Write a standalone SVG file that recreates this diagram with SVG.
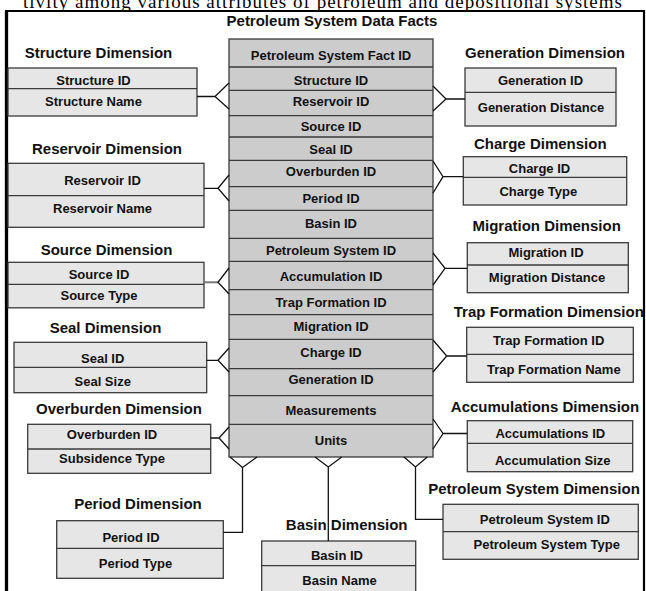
<svg xmlns="http://www.w3.org/2000/svg" width="646" height="591" viewBox="0 0 646 591">
<style>
.cap{font-family:"Liberation Serif","Times New Roman",serif;font-size:19px;fill:#000}
.t{font-family:"Liberation Sans",Arial,sans-serif;font-size:15px;font-weight:bold;fill:#111;text-anchor:middle}
.r{font-family:"Liberation Sans",Arial,sans-serif;font-size:13px;font-weight:bold;fill:#111;text-anchor:middle}
.dim{fill:#e6e6e6;stroke:#3a3a3a;stroke-width:1.3}
.fact{fill:#cccccc;stroke:#3a3a3a;stroke-width:1.3}
.div{stroke:#3a3a3a;stroke-width:1.3;fill:none}
.c{stroke:#111;stroke-width:1.3;fill:none}
.cg{stroke:#777;stroke-width:2;fill:none}
.frame{stroke:#000;fill:none}
</style>
<rect x="0" y="0" width="646" height="591" fill="#fff"/>
<text class="cap" x="23" y="8" textLength="599" lengthAdjust="spacing">tivity among various attributes of petroleum and depositional systems</text>
<path class="frame" d="M6.5,595 V11" stroke-width="3.3"/>
<path class="frame" d="M5,11 H644 V595" stroke-width="2.2"/>

<g id="fact">
<text class="t" x="332" y="26">Petroleum System Data Facts</text>
<rect class="fact" x="229" y="39" width="204" height="418"/>
<path class="div" d="M229,67H433M229,90.3H433M229,115.7H433M229,137H433M229,160.3H433M229,186.7H433M229,210.3H433M229,238.3H433M229,261.3H433M229,289.7H433M229,314.7H433M229,339.3H433M229,368.7H433M229,395.7H433M229,424.3H433"/>
<text class="r" x="331" y="60.3">Petroleum System Fact ID</text>
<text class="r" x="331" y="84.7">Structure ID</text>
<text class="r" x="331" y="106.3">Reservoir ID</text>
<text class="r" x="331" y="131.3">Source ID</text>
<text class="r" x="331" y="154">Seal ID</text>
<text class="r" x="331" y="176.3">Overburden ID</text>
<text class="r" x="331" y="203">Period ID</text>
<text class="r" x="331" y="228">Basin ID</text>
<text class="r" x="331" y="255.3">Petroleum System ID</text>
<text class="r" x="331" y="281.3">Accumulation ID</text>
<text class="r" x="331" y="307">Trap Formation ID</text>
<text class="r" x="331" y="331.3">Migration ID</text>
<text class="r" x="331" y="357.3">Charge ID</text>
<text class="r" x="331" y="384">Generation ID</text>
<text class="r" x="331" y="415.3">Measurements</text>
<text class="r" x="331" y="445.3">Units</text>
</g>

<g id="structure">
<text class="t" x="98.5" y="58.4">Structure Dimension</text>
<rect class="dim" x="8" y="68" width="189" height="48"/>
<path class="div" d="M8,88.7H197"/>
<text class="r" x="93.5" y="84.7">Structure ID</text>
<text class="r" x="93.5" y="106.3">Structure Name</text>
</g>

<g id="reservoir">
<text class="t" x="107" y="153.5">Reservoir Dimension</text>
<rect class="dim" x="8" y="163.3" width="196" height="64"/>
<path class="div" d="M8,195.7H204"/>
<text class="r" x="102.5" y="184.7">Reservoir ID</text>
<text class="r" x="102.5" y="213">Reservoir Name</text>
</g>

<g id="source">
<text class="t" x="106.5" y="254.6">Source Dimension</text>
<rect class="dim" x="8" y="262.3" width="196" height="45.5"/>
<path class="div" d="M8,284.3H204"/>
<text class="r" x="99" y="278.7">Source ID</text>
<text class="r" x="99" y="300.3">Source Type</text>
</g>

<g id="seal">
<text class="t" x="105.5" y="332.7">Seal Dimension</text>
<rect class="dim" x="14" y="342.3" width="192.7" height="50.4"/>
<path class="div" d="M14,367.3H206.7"/>
<text class="r" x="102.7" y="363">Seal ID</text>
<text class="r" x="102.7" y="386.3">Seal Size</text>
</g>

<g id="overburden">
<text class="t" x="119" y="414.4">Overburden Dimension</text>
<rect class="dim" x="27.7" y="424.3" width="183" height="49"/>
<path class="div" d="M27.7,449H210.7"/>
<text class="r" x="112" y="439">Overburden ID</text>
<text class="r" x="112" y="463">Subsidence Type</text>
</g>

<g id="period">
<text class="t" x="138" y="508.7">Period Dimension</text>
<rect class="dim" x="56.7" y="520.7" width="166.6" height="57.6"/>
<path class="div" d="M56.7,548.3H223.3"/>
<text class="r" x="131" y="542.3">Period ID</text>
<text class="r" x="135.5" y="568">Period Type</text>
</g>

<g id="basin">
<text class="t" x="346.7" y="529.7">Basin Dimension</text>
<rect class="dim" x="261.7" y="541" width="154" height="60"/>
<path class="div" d="M261.7,565.7H415.7"/>
<text class="r" x="337" y="559.7">Basin ID</text>
<text class="r" x="339.5" y="584.7">Basin Name</text>
</g>

<g id="generation">
<text class="t" x="545" y="58.4">Generation Dimension</text>
<rect class="dim" x="465" y="68" width="151" height="58"/>
<path class="div" d="M465,92.3H616"/>
<text class="r" x="540.5" y="84.7">Generation ID</text>
<text class="r" x="541" y="112">Generation Distance</text>
</g>

<g id="charge">
<text class="t" x="540.3" y="148.7">Charge Dimension</text>
<rect class="dim" x="463.3" y="156.7" width="163.4" height="48.3"/>
<path class="div" d="M463.3,177.3H626.7"/>
<text class="r" x="539.5" y="173">Charge ID</text>
<text class="r" x="538.3" y="196.3">Charge Type</text>
</g>

<g id="migration">
<text class="t" x="546.7" y="231.4">Migration Dimension</text>
<rect class="dim" x="467.3" y="242.7" width="161" height="50"/>
<path class="div" d="M467.3,265H628.3"/>
<text class="r" x="546" y="257.3">Migration ID</text>
<text class="r" x="547" y="282">Migration Distance</text>
</g>

<g id="trap">
<text class="t" x="548.8" y="317">Trap Formation Dimension</text>
<rect class="dim" x="466.7" y="327.3" width="166.6" height="55"/>
<path class="div" d="M466.7,354.3H633.3"/>
<text class="r" x="548.7" y="344.7">Trap Formation ID</text>
<text class="r" x="553.8" y="374">Trap Formation Name</text>
</g>

<g id="accumulations">
<text class="t" x="545" y="412">Accumulations Dimension</text>
<rect class="dim" x="467.3" y="420.7" width="165.4" height="51"/>
<path class="div" d="M467.3,443.3H632.7"/>
<text class="r" x="550.3" y="438">Accumulations ID</text>
<text class="r" x="552.7" y="464.7">Accumulation Size</text>
</g>

<g id="petroleum-system">
<text class="t" x="534" y="493.7">Petroleum System Dimension</text>
<rect class="dim" x="443" y="504.3" width="195.3" height="55"/>
<path class="div" d="M443,531.7H638.3"/>
<text class="r" x="544.8" y="524">Petroleum System ID</text>
<text class="r" x="546.8" y="549">Petroleum System Type</text>
</g>

<g id="connectors">
<path class="c" d="M197,96.5H215M229,83L215,96.5L229,109"/>
<path class="c" d="M204,188.3H218M229,175L218,188.3L229,201"/>
<path class="cg" d="M204,282.3H218"/>
<path class="c" d="M229,268L218,282.3L229,294"/>
<path class="c" d="M206.7,360.3H218M229,348L218,360.3L229,372"/>
<path class="c" d="M210.7,438H219M229,427L219,438L229,449"/>
<path class="c" d="M465,99H446M433,86L446,99L433,111"/>
<path class="c" d="M463.3,176.7H443M433,161L443,176.7L433,193"/>
<path class="c" d="M467.3,268.3H445M433,253L445,268.3L433,285"/>
<path class="c" d="M466.7,356H446.7M433,340L446.7,356L433,372"/>
<path class="c" d="M467.3,433.5H443M433,419L443,433.5L433,449"/>
<path class="c" d="M223.3,532.3H242.5V467.5M230,457L242.5,467.5L257,457"/>
<path class="c" d="M328.3,541V467M315,457L328.3,467L341.7,457"/>
<path class="c" d="M443,519.3H415.5V467M404,457L415.5,467L427.3,457"/>
</g>
</svg>
